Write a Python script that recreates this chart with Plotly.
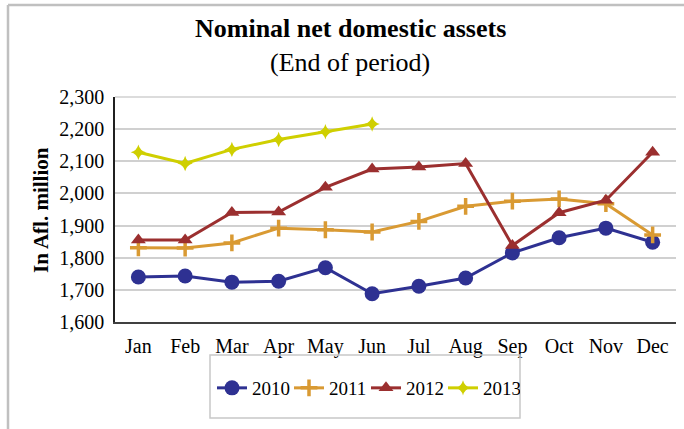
import plotly.graph_objects as go

months = ["Jan", "Feb", "Mar", "Apr", "May", "Jun", "Jul", "Aug", "Sep", "Oct", "Nov", "Dec"]
v2010 = [1740, 1743, 1724, 1727, 1769, 1688, 1711, 1737, 1815, 1862, 1892, 1848]
v2011 = [1831, 1830, 1846, 1892, 1887, 1880, 1913, 1960, 1976, 1983, 1968, 1871]
v2012 = [1855, 1855, 1941, 1942, 2019, 2076, 2082, 2093, 1838, 1940, 1979, 2128]
v2013 = [2128, 2093, 2137, 2168, 2192, 2216]
y_ticks = [1600, 1700, 1800, 1900, 2000, 2100, 2200, 2300]

W, H = 684, 429
L, R, T, B = 115, 8, 97, 107
pw, ph = W - L - R, H - T - B

def px(x):
    return (x - L) / pw

def py(y):
    return (H - B - y) / ph

FONT = "Liberation Serif"

fig = go.Figure()
series = [
    ("2010", v2010, "#2E3192", dict(symbol="circle", size=15)),
    ("2011", v2011, "#D99A33", dict(symbol="cross-thin", size=12, line=dict(width=3.5, color="#D99A33"))),
    ("2012", v2012, "#9B2F2F", dict(symbol="triangle-up", size=13)),
    ("2013", v2013, "#CFCF00", dict(symbol="star-diamond", size=11)),
]
for name, vals, col, mk in series:
    fig.add_trace(go.Scatter(
        x=months[:len(vals)], y=vals, name=name, mode="lines+markers",
        line=dict(color=col, width=3), marker=dict(color=col, **mk),
    ))

fig.update_layout(
    width=W, height=H,
    margin=dict(l=L, r=R, t=T, b=B),
    paper_bgcolor="white", plot_bgcolor="white",
    font=dict(family=FONT, color="black", size=20),
    showlegend=True,
    legend=dict(orientation="h", x=px(366), y=py(388), xanchor="center", yanchor="middle",
                font=dict(family=FONT, size=19, color="black"), bgcolor="rgba(0,0,0,0)", borderwidth=0,
                itemwidth=30, entrywidth=32, entrywidthmode="pixels", tracegroupgap=0),
    xaxis=dict(type="category", categoryarray=months, showgrid=False,
               showline=True, linecolor="#404040", linewidth=2, ticks="",
               tickfont=dict(family=FONT, size=20), ticklabelstandoff=5,
               range=[-0.5, 11.5], fixedrange=True),
    yaxis=dict(range=[1600, 2300], tickvals=y_ticks, tickformat=",d",
               showgrid=True, gridcolor="#D0D0D0", gridwidth=1.5,
               showline=True, linecolor="#202020", linewidth=1.5, ticks="",
               tickfont=dict(family=FONT, size=20), ticklabelstandoff=5,
               zeroline=False, fixedrange=True),
    shapes=[
        dict(type="line", xref="paper", yref="paper", x0=px(8), x1=px(W), y0=py(5), y1=py(5),
             line=dict(color="#C0C0C0", width=2.5)),
        dict(type="line", xref="paper", yref="paper", x0=px(8), x1=px(8), y0=py(5), y1=py(H),
             line=dict(color="#C0C0C0", width=2.5)),
        dict(type="rect", xref="paper", yref="paper", x0=px(210), x1=px(520), y0=py(355), y1=py(418),
             line=dict(color="#C8C8C8", width=1.5)),
        dict(type="line", xref="paper", yref="paper", x0=0, x1=1, y0=1, y1=1,
             line=dict(color="#D0D0D0", width=1.5)),
    ],
    annotations=[
        dict(text="<b>Nominal net domestic assets</b>", x=px(350), y=py(28), xref="paper", yref="paper",
             showarrow=False, xanchor="center", yanchor="middle", font=dict(family=FONT, size=26)),
        dict(text="(End of period)", x=px(350), y=py(62), xref="paper", yref="paper",
             showarrow=False, xanchor="center", yanchor="middle", font=dict(family=FONT, size=26)),
        dict(text="<b>In Afl. million</b>", x=px(41), y=py(210), xref="paper", yref="paper",
             showarrow=False, xanchor="center", yanchor="middle", textangle=-90,
             font=dict(family=FONT, size=21)),
    ],
)

fig.write_html("out.html", config={"displayModeBar": False},
               post_script="document.body.style.margin='0';document.body.style.overflow='hidden';")
